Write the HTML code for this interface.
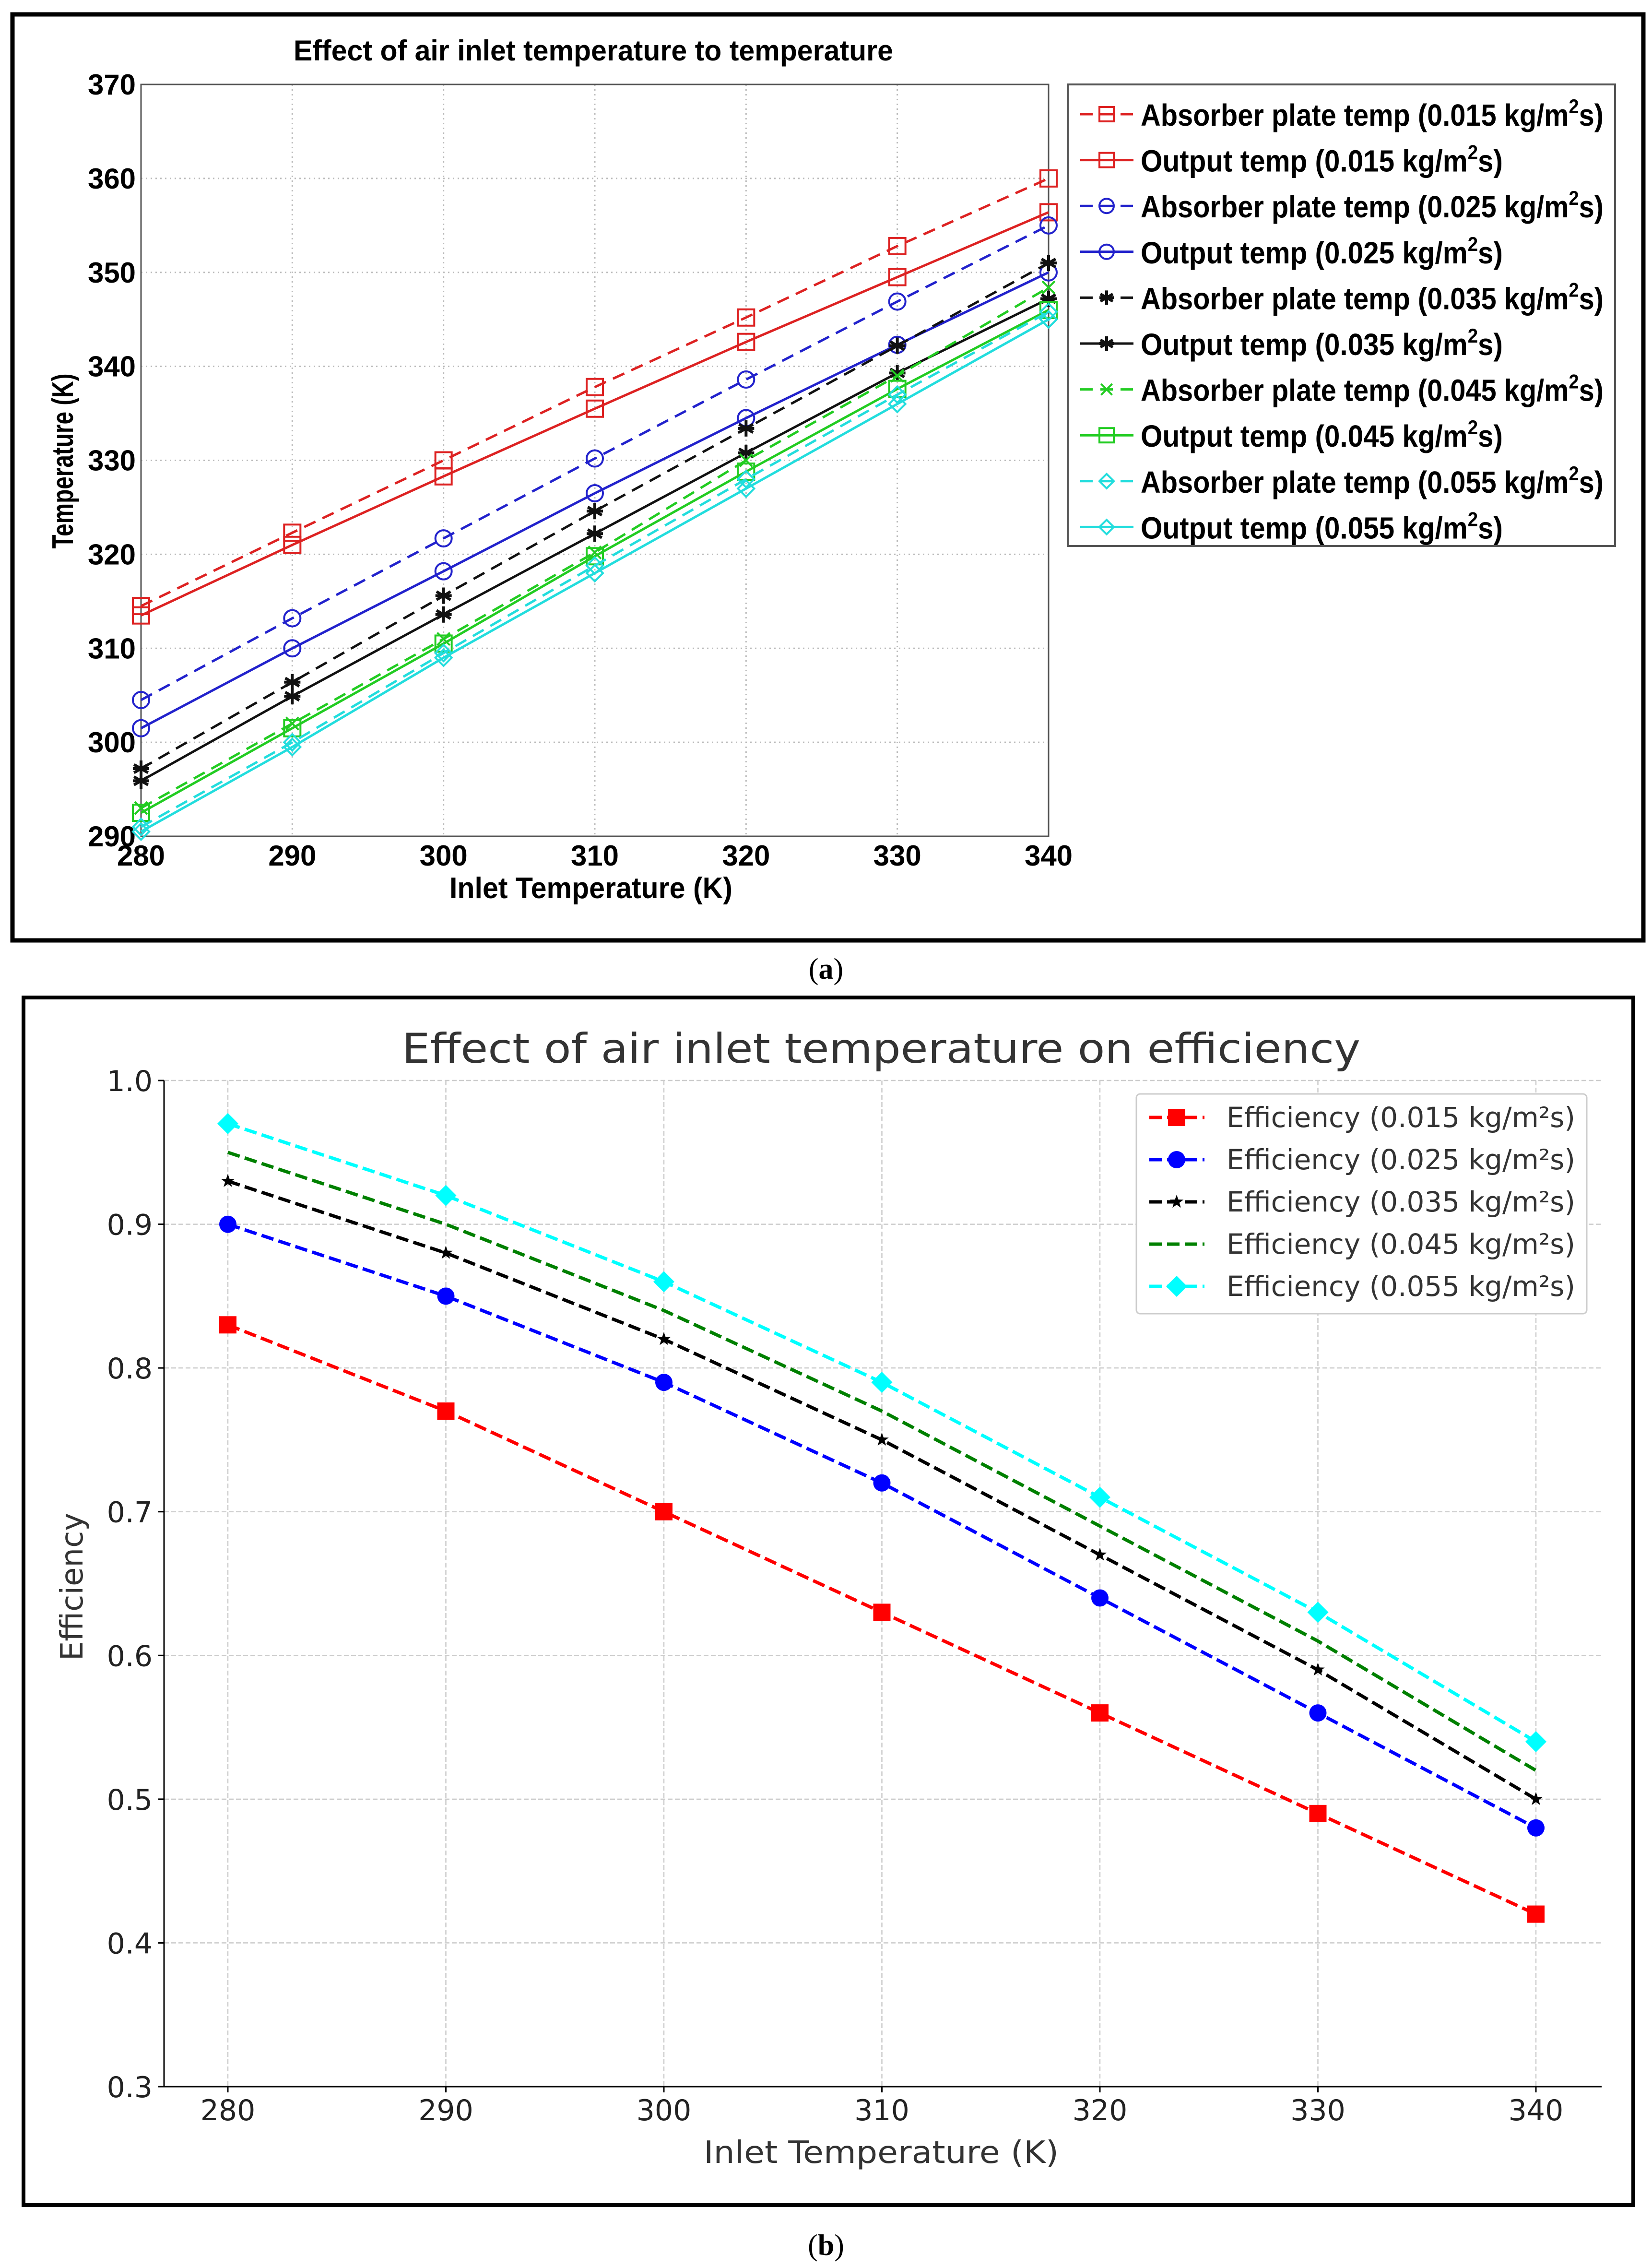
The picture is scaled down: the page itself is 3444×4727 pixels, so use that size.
<!DOCTYPE html>
<html><head><meta charset="utf-8"><style>
html,body{margin:0;padding:0;background:#fff}
svg{display:block}
</style></head><body>
<svg id="fig" xmlns="http://www.w3.org/2000/svg" width="3444" height="4727" viewBox="0 0 3444 4727">
<rect x="0" y="0" width="3444" height="4727" fill="#fff"/>
<g id="chartA">
<rect x="26" y="30" width="3400" height="1930" fill="#fff" stroke="#000" stroke-width="9"/>
<text x="1237" y="126" font-family="Liberation Sans, sans-serif" font-weight="bold" font-size="60" text-anchor="middle" textLength="1250" lengthAdjust="spacingAndGlyphs">Effect of air inlet temperature to  temperature</text>
<text x="1232" y="1872" font-family="Liberation Sans, sans-serif" font-weight="bold" font-size="62" text-anchor="middle" textLength="590" lengthAdjust="spacingAndGlyphs">Inlet Temperature (K)</text>
<text transform="translate(152,961) rotate(-90)" font-family="Liberation Sans, sans-serif" font-weight="bold" font-size="62" text-anchor="middle" textLength="365" lengthAdjust="spacingAndGlyphs">Temperature (K)</text>
</g>
<g id="chartB">
<text x="1722" y="2040" font-family="Liberation Serif, serif" font-size="62" text-anchor="middle">(<tspan font-weight="bold">a</tspan>)</text>
<rect x="49" y="2079" width="3356" height="2517" fill="#fff" stroke="#000" stroke-width="8"/>
<text x="1837" y="2215" font-family="DejaVu Sans, sans-serif" font-size="86" fill="#333" text-anchor="middle" textLength="1998" lengthAdjust="spacingAndGlyphs">Effect of air inlet temperature on efficiency</text>
<text x="1837" y="4508" font-family="DejaVu Sans, sans-serif" font-size="64" fill="#333" text-anchor="middle" textLength="740" lengthAdjust="spacingAndGlyphs">Inlet Temperature (K)</text>
<text transform="translate(172,3307) rotate(-90)" font-family="DejaVu Sans, sans-serif" font-size="64" fill="#333" text-anchor="middle">Efficiency</text>
<text x="1722" y="4700" font-family="Liberation Serif, serif" font-size="62" text-anchor="middle">(<tspan font-weight="bold">b</tspan>)</text>
</g>
</svg>
<script>
// ---------- Chart A data ----------
const aX = [280, 290, 300, 310, 320, 330, 340];
const aYTicks = [290, 300, 310, 320, 330, 340, 350, 360, 370];
const absorb015 = [314.5, 322.3, 330.0, 337.8, 345.2, 352.8, 360.0];
const output015 = [313.5, 321.0, 328.3, 335.5, 342.6, 349.5, 356.4];
const absorb025 = [304.5, 313.2, 321.7, 330.2, 338.6, 346.9, 355.0];
const output025 = [301.5, 310.0, 318.2, 326.5, 334.5, 342.3, 350.0];
const absorb035 = [297.2, 306.4, 315.6, 324.6, 333.4, 342.2, 351.0];
const output035 = [295.9, 304.9, 313.6, 322.2, 330.8, 339.3, 347.2];
const absorb045 = [293.0, 302.0, 311.0, 320.2, 330.0, 339.0, 348.4];
const output045 = [292.5, 301.5, 310.5, 319.8, 328.8, 337.6, 346.0];
const absorb055 = [291.0, 300.0, 309.5, 318.8, 328.0, 337.0, 345.8];
const output055 = [290.5, 299.5, 309.0, 318.0, 327.0, 336.0, 345.0];
const aLabels = ["0.015","0.015","0.025","0.025","0.035","0.035","0.045","0.045","0.055","0.055"];

// ---------- Chart B data ----------
const bX = [280, 290, 300, 310, 320, 330, 340];
const bYTicks = [0.3, 0.4, 0.5, 0.6, 0.7, 0.8, 0.9, 1.0];
const eff015 = [0.83, 0.77, 0.70, 0.63, 0.56, 0.49, 0.42];
const eff025 = [0.90, 0.85, 0.79, 0.72, 0.64, 0.56, 0.48];
const eff035 = [0.93, 0.88, 0.82, 0.75, 0.67, 0.59, 0.50];
const eff045 = [0.95, 0.90, 0.84, 0.77, 0.69, 0.61, 0.52];
const eff055 = [0.97, 0.92, 0.86, 0.79, 0.71, 0.63, 0.54];
const bLabels = ["0.015","0.025","0.035","0.045","0.055"];

const NS = "http://www.w3.org/2000/svg";
function mk(parent, tag, attrs) {
  const e = document.createElementNS(NS, tag);
  for (const k in attrs) e.setAttribute(k, attrs[k]);
  parent.appendChild(e);
  return e;
}
function marker(g, type, x, y, s, color, filled) {
  const fill = filled ? color : "none";
  let e;
  if (type === "square") e = mk(g, "rect", {x: x - s/2, y: y - s/2, width: s, height: s, fill: fill, stroke: color, "stroke-width": filled ? 0 : 4});
  else if (type === "circle") e = mk(g, "circle", {cx: x, cy: y, r: s/2, fill: fill, stroke: color, "stroke-width": filled ? 0 : 4});
  else if (type === "diamond") e = mk(g, "polygon", {points: `${x},${y-s/2} ${x+s/2},${y} ${x},${y+s/2} ${x-s/2},${y}`, fill: fill, stroke: color, "stroke-width": filled ? 0 : 4});
  else if (type === "star") {
    const r = s/2; let d = "";
    for (let i = 0; i < 3; i++) { const a = i*Math.PI/3 + Math.PI/2; d += `M${x+r*Math.cos(a)},${y+r*Math.sin(a)}L${x-r*Math.cos(a)},${y-r*Math.sin(a)}`; }
    d += `M${x-r},${y}L${x+r},${y}`;
    e = mk(g, "path", {d: d, stroke: color, "stroke-width": 6, fill: "none"});
  } else if (type === "x") {
    const r = s/2.6;
    e = mk(g, "path", {d: `M${x-r},${y-r}L${x+r},${y+r}M${x-r},${y+r}L${x+r},${y-r}`, stroke: color, "stroke-width": 4, fill: "none"});
  } else if (type === "star5") {
    const R = s/2, r = s/5; let p = [];
    for (let i = 0; i < 10; i++) { const a = -Math.PI/2 + i*Math.PI/5; const rr = i%2 ? r : R; p.push(`${x+rr*Math.cos(a)},${y+rr*Math.sin(a)}`); }
    e = mk(g, "polygon", {points: p.join(" "), fill: color});
  }
  return e;
}

// ---------- Chart A ----------
(function () {
  const g = document.getElementById("chartA");
  const X0 = 294, X1 = 2186, Y0 = 1743, Y1 = 176;
  const xs = v => X0 + (v - 280) / 60 * (X1 - X0);
  const ys = v => Y0 - (v - 290) / 80 * (Y0 - Y1);
  const font = "Liberation Sans, sans-serif";
  const grid = mk(g, "g", {});
  
  
  aX.forEach(v => { mk(grid, "line", {x1: xs(v), x2: xs(v), y1: Y1, y2: Y0, stroke: "#bbb", "stroke-width": 3, "stroke-dasharray": "3 7"}); });
  aYTicks.forEach(v => { mk(grid, "line", {x1: X0, x2: X1, y1: ys(v), y2: ys(v), stroke: "#bbb", "stroke-width": 3, "stroke-dasharray": "3 7"}); });
  mk(g, "rect", {x: X0, y: Y1, width: X1 - X0, height: Y0 - Y1, fill: "none", stroke: "#555", "stroke-width": 3});
  aYTicks.forEach(v => {
    const t = mk(g, "text", {x: 283, y: ys(v) + 21, "font-family": font, "font-weight": "bold", "font-size": 60, "text-anchor": "end", textLength: 100, lengthAdjust: "spacingAndGlyphs"});
    t.textContent = v;
    
    
  });
  aX.forEach(v => {
    const t = mk(g, "text", {x: xs(v), y: 1804, "font-family": font, "font-weight": "bold", "font-size": 60, "text-anchor": "middle", textLength: 100, lengthAdjust: "spacingAndGlyphs"});
    t.textContent = v;
    
    
  });
  const series = [
    [absorb015, "#dd2222", "square", true, "absorber-015"],
    [output015, "#dd2222", "square", false, "output-015"],
    [absorb025, "#2222cc", "circle", true, "absorber-025"],
    [output025, "#2222cc", "circle", false, "output-025"],
    [absorb035, "#111111", "star", true, "absorber-035"],
    [output035, "#111111", "star", false, "output-035"],
    [absorb045, "#22cc22", "x", true, "absorber-045"],
    [output045, "#22cc22", "square", false, "output-045"],
    [absorb055, "#22dddd", "diamond", true, "absorber-055"],
    [output055, "#22dddd", "diamond", false, "output-055"]
  ];
  series.forEach(([vals, c, m, dashed, name]) => {
    const sg = mk(g, "g", {});
    
    
    const pts = vals.map((v, i) => `${xs(aX[i])},${ys(v)}`).join(" ");
    const pl = mk(sg, "polyline", {points: pts, fill: "none", stroke: c, "stroke-width": 5});
    if (dashed) pl.setAttribute("stroke-dasharray", "26 16");
    vals.forEach((v, i) => {
      const mm = marker(sg, m, xs(aX[i]), ys(v), 34, c, false);
      
      
    });
  });
  // legend
  const lg = mk(g, "g", {});
  
  
  mk(lg, "rect", {x: 2226, y: 176, width: 1141, height: 962, fill: "#fff", stroke: "#555", "stroke-width": 4});
  series.forEach(([vals, c, m, dashed, name], i) => {
    const y = 238 + i * 95.6;
    const eg = mk(lg, "g", {});
    
    
    const ln = mk(eg, "line", {x1: 2252, x2: 2363, y1: y, y2: y, stroke: c, "stroke-width": 5});
    if (dashed) ln.setAttribute("stroke-dasharray", "26 16");
    marker(eg, m, 2307, y, 30, c, false);
    const t = mk(eg, "text", {x: 2378, y: y + 24, "font-family": font, "font-weight": "bold", "font-size": 64});
    const pre = (dashed ? "Absorber plate temp (" : "Output temp (") + aLabels[i] + " kg/m";
    t.appendChild(document.createTextNode(pre));
    const sup = mk(t, "tspan", {dy: -26, "font-size": 42});
    sup.textContent = "2";
    const tail = mk(t, "tspan", {dy: 26});
    tail.textContent = "s)";
    t.setAttribute("textLength", dashed ? 965 : 755);
    t.setAttribute("lengthAdjust", "spacingAndGlyphs");
  });
})();

// ---------- Chart B ----------
(function () {
  const g = document.getElementById("chartB");
  const PX0 = 342, PX1 = 3339;
  const Y0 = 4349, Y1 = 2252;
  const xs = v => 475 + (v - 280) / 60 * (3202 - 475);
  const ys = v => Y0 - (v - 0.3) / 0.7 * (Y0 - Y1);
  const font = "DejaVu Sans, sans-serif";
  const grid = mk(g, "g", {});
  
  
  bX.forEach(v => { mk(grid, "line", {x1: xs(v), x2: xs(v), y1: Y1, y2: Y0, stroke: "#ccc", "stroke-width": 2.5, "stroke-dasharray": "10 5"}); });
  bYTicks.forEach(v => { mk(grid, "line", {x1: PX0, x2: PX1, y1: ys(v), y2: ys(v), stroke: "#ccc", "stroke-width": 2.5, "stroke-dasharray": "10 5"}); });
  mk(g, "line", {x1: PX0, x2: PX0, y1: Y1, y2: Y0, stroke: "#000", "stroke-width": 3});
  mk(g, "line", {x1: PX0, x2: PX1, y1: Y0, y2: Y0, stroke: "#000", "stroke-width": 3});
  bYTicks.forEach(v => {
    mk(g, "line", {x1: PX0 - 12, x2: PX0, y1: ys(v), y2: ys(v), stroke: "#000", "stroke-width": 3});
    const t = mk(g, "text", {x: 318, y: ys(v) + 22, "font-family": font, "font-size": 60, fill: "#222", "text-anchor": "end"});
    t.textContent = v.toFixed(1);
    
    
  });
  bX.forEach(v => {
    mk(g, "line", {x1: xs(v), x2: xs(v), y1: Y0, y2: Y0 + 12, stroke: "#000", "stroke-width": 3});
    const t = mk(g, "text", {x: xs(v), y: 4419, "font-family": font, "font-size": 60, fill: "#222", "text-anchor": "middle"});
    t.textContent = v;
    
    
  });
  const series = [
    [eff015, "#ff0000", "square", "eff-015"],
    [eff025, "#0000ff", "circle", "eff-025"],
    [eff035, "#000000", "star5", "eff-035"],
    [eff045, "#008000", null, "eff-045"],
    [eff055, "#00ffff", "diamond", "eff-055"]
  ];
  series.forEach(([vals, c, m, name]) => {
    const sg = mk(g, "g", {});
    
    
    const pts = vals.map((v, i) => `${xs(bX[i])},${ys(v)}`).join(" ");
    mk(sg, "polyline", {points: pts, fill: "none", stroke: c, "stroke-width": 7, "stroke-dasharray": "26 11"});
    if (m) vals.forEach((v, i) => {
      const s = m === "star5" ? 30 : (m === "diamond" ? 44 : 36);
      const mm = marker(sg, m, xs(bX[i]), ys(v), s, c, true);
      
      
    });
  });
  const lg = mk(g, "g", {});
  
  
  mk(lg, "rect", {x: 2369, y: 2280, width: 939, height: 458, rx: 8, fill: "#fff", stroke: "#ccc", "stroke-width": 3});
  series.forEach(([vals, c, m, name], i) => {
    const y = 2329 + i * 88;
    const eg = mk(lg, "g", {});
    
    
    mk(eg, "line", {x1: 2396, x2: 2511, y1: y, y2: y, stroke: c, "stroke-width": 7, "stroke-dasharray": "26 11"});
    if (m) marker(eg, m, 2453, y, m === "star5" ? 30 : (m === "diamond" ? 44 : 36), c, true);
    const t = mk(eg, "text", {x: 2557, y: y + 20, "font-family": font, "font-size": 58, fill: "#333", textLength: 727, lengthAdjust: "spacingAndGlyphs"});
    t.textContent = "Efficiency (" + bLabels[i] + " kg/m²s)";
  });
})();
</script>
</body></html>
